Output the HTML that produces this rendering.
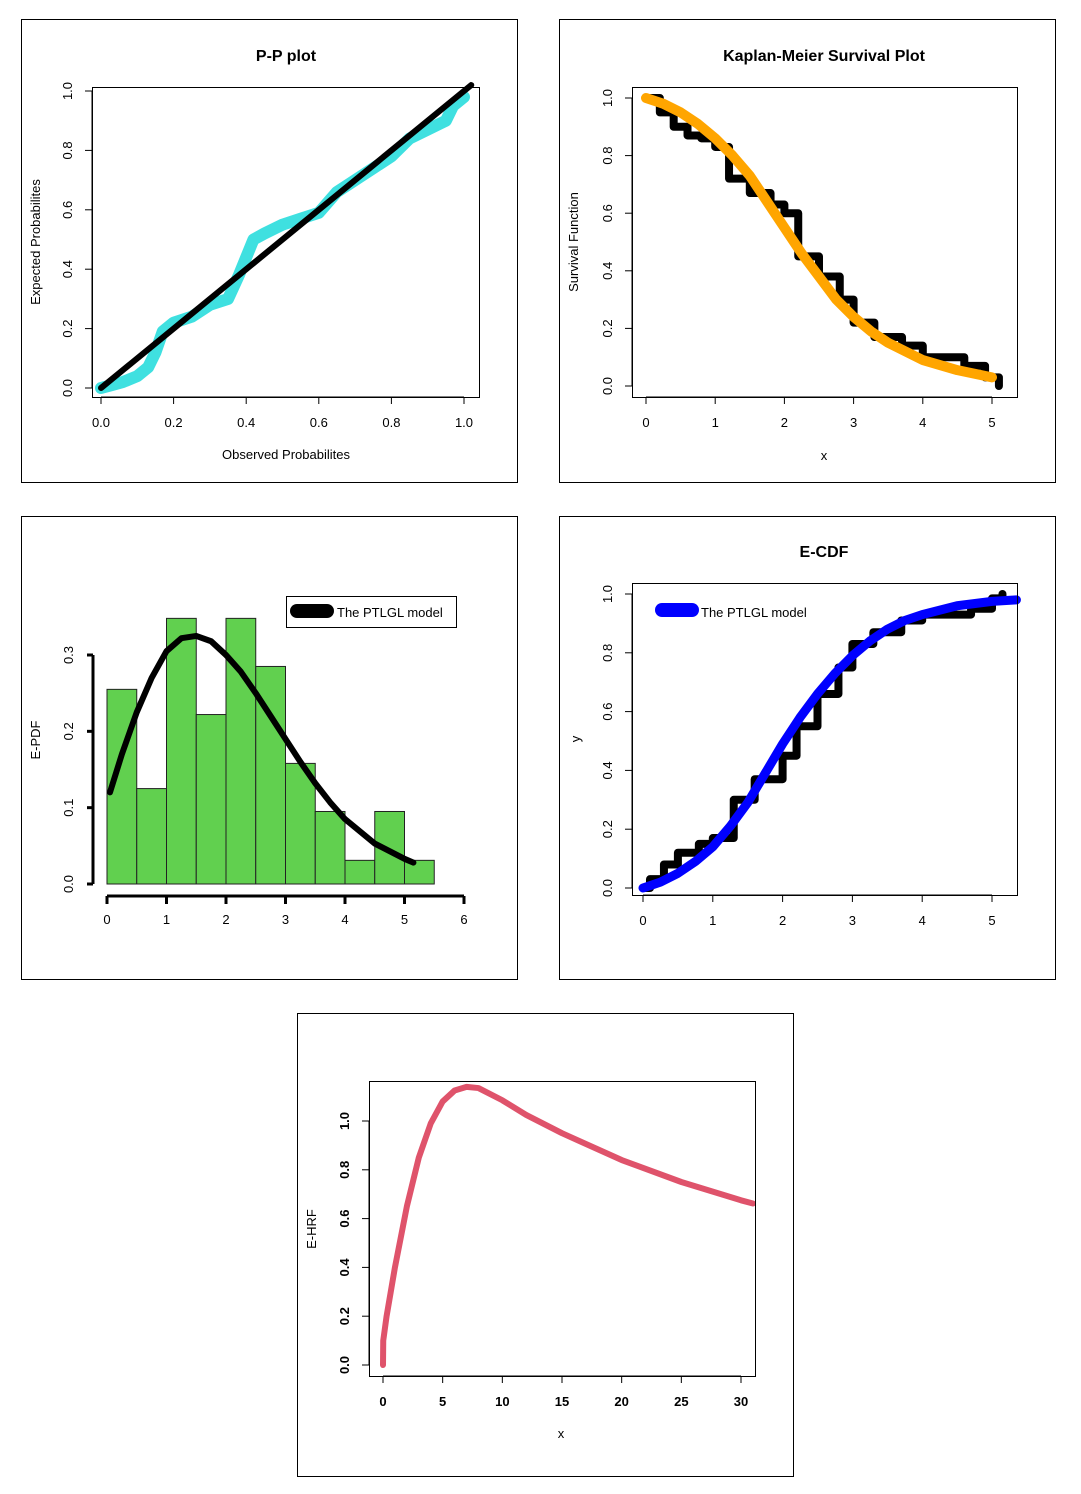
<!DOCTYPE html>
<html><head><meta charset="utf-8">
<style>
body{margin:0;background:#fff;}
svg{display:block;font-family:"Liberation Sans",Arial,sans-serif;}
</style></head>
<body>
<svg id="root" width="1081" height="1494" viewBox="0 0 1081 1494" xmlns="http://www.w3.org/2000/svg"></svg>
<script>
// ---------- data ----------
const ppObs = [0,0.03,0.06,0.1,0.13,0.15,0.17,0.2,0.25,0.3,0.35,0.38,0.4,0.42,0.45,0.5,0.55,0.6,0.65,0.7,0.75,0.8,0.85,0.9,0.95,0.97,1.0];
const ppExp = [0,0.01,0.02,0.04,0.07,0.12,0.19,0.22,0.24,0.28,0.3,0.38,0.44,0.5,0.52,0.55,0.57,0.59,0.66,0.7,0.74,0.78,0.84,0.87,0.9,0.95,0.98];
const kmX = [0,0.2,0.4,0.6,0.8,1.0,1.2,1.5,1.8,2.0,2.2,2.5,2.8,3.0,3.3,3.7,4.0,4.6,4.9,5.1];
const kmS = [1,0.95,0.9,0.87,0.86,0.83,0.72,0.67,0.63,0.6,0.45,0.38,0.3,0.22,0.17,0.14,0.1,0.07,0.03,0.0];
const survX = [0,0.25,0.5,0.75,1,1.25,1.5,1.75,2,2.25,2.5,2.75,3,3.25,3.5,3.75,4,4.5,5];
const survY = [1.0,0.98,0.95,0.91,0.86,0.8,0.73,0.64,0.55,0.46,0.38,0.3,0.24,0.19,0.15,0.12,0.09,0.055,0.03];
const histBreaks = [0,0.5,1,1.5,2,2.5,3,3.5,4,4.5,5,5.5];
const histDens = [0.255,0.125,0.348,0.222,0.348,0.285,0.158,0.095,0.031,0.095,0.031];
const pdfX = [0.05,0.25,0.5,0.75,1,1.25,1.5,1.75,2,2.25,2.5,2.75,3,3.25,3.5,3.75,4,4.5,5,5.15];
const pdfY = [0.12,0.17,0.225,0.27,0.305,0.322,0.325,0.318,0.3,0.278,0.25,0.22,0.19,0.16,0.132,0.107,0.085,0.053,0.033,0.028];
const ecdfX = [0,0.1,0.3,0.5,0.8,1.0,1.3,1.6,2.0,2.2,2.5,2.8,3.0,3.3,3.7,4.0,4.7,5.0,5.15];
const ecdfY = [0,0.03,0.08,0.12,0.15,0.17,0.3,0.37,0.45,0.55,0.66,0.75,0.83,0.87,0.91,0.93,0.95,0.985,1.0];
const cdfX = [0,0.25,0.5,0.75,1,1.25,1.5,1.75,2,2.25,2.5,2.75,3,3.25,3.5,3.75,4,4.5,5,5.35];
const cdfY = [0,0.02,0.05,0.09,0.14,0.21,0.29,0.39,0.49,0.58,0.66,0.73,0.79,0.84,0.88,0.91,0.93,0.96,0.975,0.98];
const hrfX = [0,0.02,0.3,1,2,3,4,5,6,7,8,10,12,15,20,25,30,31];
const hrfY = [0,0.1,0.2,0.4,0.65,0.85,0.99,1.08,1.125,1.14,1.135,1.085,1.025,0.95,0.84,0.75,0.675,0.662];
const ticks01 = ["0.0","0.2","0.4","0.6","0.8","1.0"];
const ticks05 = ["0","1","2","3","4","5"];
const ticksHist = ["0","1","2","3","4","5","6"];
const ticksPdfY = ["0.0","0.1","0.2","0.3"];
const ticksHrfX = ["0","5","10","15","20","25","30"];

// ---------- helpers ----------
const NS="http://www.w3.org/2000/svg";
const root=document.getElementById('root');
function mk(tag,attrs,parent,text){const e=document.createElementNS(NS,tag);for(const k in attrs)e.setAttribute(k,attrs[k]);if(text!==undefined)e.textContent=text;(parent||root).appendChild(e);return e;}
function lin(d0,d1,p0,p1){return v=>p0+(v-d0)*(p1-p0)/(d1-d0);}
function grp(name){const g=mk('g',{});return g;}
function frame(x,y,w,h,name){const r=mk('rect',{x:x+0.5,y:y+0.5,width:w,height:h,fill:'none',stroke:'#000','stroke-width':1});}
function box(x0,y0,x1,y1,name){const r=mk('rect',{x:x0+0.5,y:y0+0.5,width:x1-x0,height:y1-y0,fill:'none',stroke:'#000','stroke-width':1});}
function txt(x,y,s,opts,name){opts=opts||{};const a={x:x,y:y,'font-size':opts.size||13,'text-anchor':opts.anchor||'middle',fill:'#000'};if(opts.bold)a['font-weight']='bold';if(opts.rot)a.transform='rotate(-90 '+x+' '+y+')';const t=mk('text',a,opts.parent,s);return t;}
function xAxis(sx,vals,labels,yLine,name,opts){opts=opts||{};const g=grp(name);
 mk('line',{x1:sx(vals[0]),x2:sx(vals[vals.length-1]),y1:yLine,y2:yLine,stroke:'#000','stroke-width':opts.w||1},g);
 vals.forEach((v,i)=>{mk('line',{x1:sx(v),x2:sx(v),y1:yLine,y2:yLine+(opts.tl||7),stroke:'#000','stroke-width':opts.w||1},g);
  txt(sx(v),yLine+(opts.lo||30),labels[i],{size:13,bold:opts.bold,parent:g},'x-tick-label');});}
function yAxis(sy,vals,labels,xLine,name,opts){opts=opts||{};const g=grp(name);
 mk('line',{x1:xLine,x2:xLine,y1:sy(vals[0]),y2:sy(vals[vals.length-1]),stroke:'#000','stroke-width':opts.w||1},g);
 vals.forEach((v,i)=>{mk('line',{x1:xLine,x2:xLine-(opts.tl||7),y1:sy(v),y2:sy(v),stroke:'#000','stroke-width':opts.w||1},g);
  txt(xLine-(opts.lo||18),sy(v),labels[i],{size:13,bold:opts.bold,rot:true,parent:g},'y-tick-label');});}
function path(xs,ys,sx,sy,color,w,name,step){let d='';xs.forEach((x,i)=>{if(i===0)d+='M'+sx(x)+' '+sy(ys[i]);else{if(step)d+=' L'+sx(x)+' '+sy(ys[i-1]);d+=' L'+sx(x)+' '+sy(ys[i]);}});
 const p=mk('path',{d:d,fill:'none',stroke:color,'stroke-width':w,'stroke-linecap':'round','stroke-linejoin':'round'});return p;}

// ---------- Panel 1: P-P ----------
frame(21,19,496,463,'pp-panel-frame');
{const sx=lin(0,1,101,464), sy=lin(0,1,388,91);
 txt(286,61,'P-P plot',{size:16,bold:true},'pp-title');
 path(ppObs,ppExp,sx,sy,'#3fe0e0',12,'pp-points');
 path([0,1.02],[0,1.02],sx,sy,'#000',6,'pp-reference-line');
 box(92,87,479,397,'pp-plot-box');
 xAxis(sx,[0,0.2,0.4,0.6,0.8,1],ticks01,397,'pp-x-axis');
 yAxis(sy,[0,0.2,0.4,0.6,0.8,1],ticks01,92,'pp-y-axis',{lo:20});
 txt(286,459,'Observed Probabilites',{size:13},'pp-x-title');
 txt(40,242,'Expected Probabilites',{size:13,rot:true},'pp-y-title');}

// ---------- Panel 2: KM ----------
frame(559,19,496,463,'km-panel-frame');
{const sx=lin(0,5,646,992), sy=lin(0,1,386,98);
 txt(824,61,'Kaplan-Meier Survival Plot',{size:16,bold:true},'km-title');
 path(kmX,kmS,sx,sy,'#000',8,'km-step-curve',true);
 path(survX,survY,sx,sy,'#ffa500',10,'km-fitted-survival');
 box(632,87,1017,397,'km-plot-box');
 xAxis(sx,[0,1,2,3,4,5],ticks05,397,'km-x-axis');
 yAxis(sy,[0,0.2,0.4,0.6,0.8,1],ticks01,632,'km-y-axis',{lo:20});
 txt(824,460,'x',{size:13},'km-x-title');
 txt(578,242,'Survival  Function',{size:13,rot:true},'km-y-title');}

// ---------- Panel 3: Histogram ----------
frame(21,516,496,463,'pdf-panel-frame');
{const sx=lin(0,6,107,464), sy=lin(0,0.3,884,655);
 histDens.forEach((d,i)=>{const r=mk('rect',{x:sx(histBreaks[i]),y:sy(d),width:sx(histBreaks[i+1])-sx(histBreaks[i]),height:sy(0)-sy(d),fill:'#61d04f',stroke:'#222','stroke-width':1});
  
  });
 path(pdfX,pdfY,sx,sy,'#000',6,'pdf-fitted-curve');
 xAxis(sx,[0,1,2,3,4,5,6],ticksHist,896,'pdf-x-axis',{w:3,tl:8,lo:28});
 yAxis(sy,[0,0.1,0.2,0.3],ticksPdfY,93,'pdf-y-axis',{w:3,tl:6,lo:20});
 txt(40,740,'E-PDF',{size:13,rot:true},'pdf-y-title');
 const lg=grp('pdf-legend');
 mk('rect',{x:286.5,y:596.5,width:170,height:31,fill:'#fff',stroke:'#000'},lg);
 mk('line',{x1:297,x2:327,y1:611,y2:611,stroke:'#000','stroke-width':14,'stroke-linecap':'round'},lg);
 txt(337,617,'The PTLGL model',{size:13,anchor:'start',parent:lg},'pdf-legend-label');}

// ---------- Panel 4: E-CDF ----------
frame(559,516,496,463,'cdf-panel-frame');
{const sx=lin(0,5,643,992), sy=lin(0,1,888,594);
 txt(824,557,'E-CDF',{size:16,bold:true},'cdf-title');
 path(ecdfX,ecdfY,sx,sy,'#000',8,'ecdf-step-curve',true);
 path(cdfX,cdfY,sx,sy,'#0000ff',9,'cdf-fitted-curve');
 box(632,583,1017,895,'cdf-plot-box');
 xAxis(sx,[0,1,2,3,4,5],ticks05,895,'cdf-x-axis');
 yAxis(sy,[0,0.2,0.4,0.6,0.8,1],ticks01,632,'cdf-y-axis',{lo:20});
 txt(580,739,'y',{size:13,rot:true},'cdf-y-title');
 const lg=grp('cdf-legend');
 mk('line',{x1:662,x2:692,y1:610,y2:610,stroke:'#0000ff','stroke-width':14,'stroke-linecap':'round'},lg);
 txt(701,617,'The PTLGL model',{size:13,anchor:'start',parent:lg},'cdf-legend-label');}

// ---------- Panel 5: HRF ----------
frame(297,1013,496,463,'hrf-panel-frame');
{const sx=lin(0,30,383,741), sy=lin(0,1,1365,1121);
 path(hrfX,hrfY,sx,sy,'#df536b',6,'hrf-curve');
 mk('rect',{x:756,y:1150,width:30,height:100,fill:'#fff'});
 box(369,1081,755,1376,'hrf-plot-box');
 xAxis(sx,[0,5,10,15,20,25,30],ticksHrfX,1376,'hrf-x-axis',{bold:true});
 yAxis(sy,[0,0.2,0.4,0.6,0.8,1],ticks01,369,'hrf-y-axis',{bold:true,lo:20});
 txt(561,1438,'x',{size:13},'hrf-x-title');
 txt(316,1229,'E-HRF',{size:13,rot:true},'hrf-y-title');}
</script>
</body></html>
